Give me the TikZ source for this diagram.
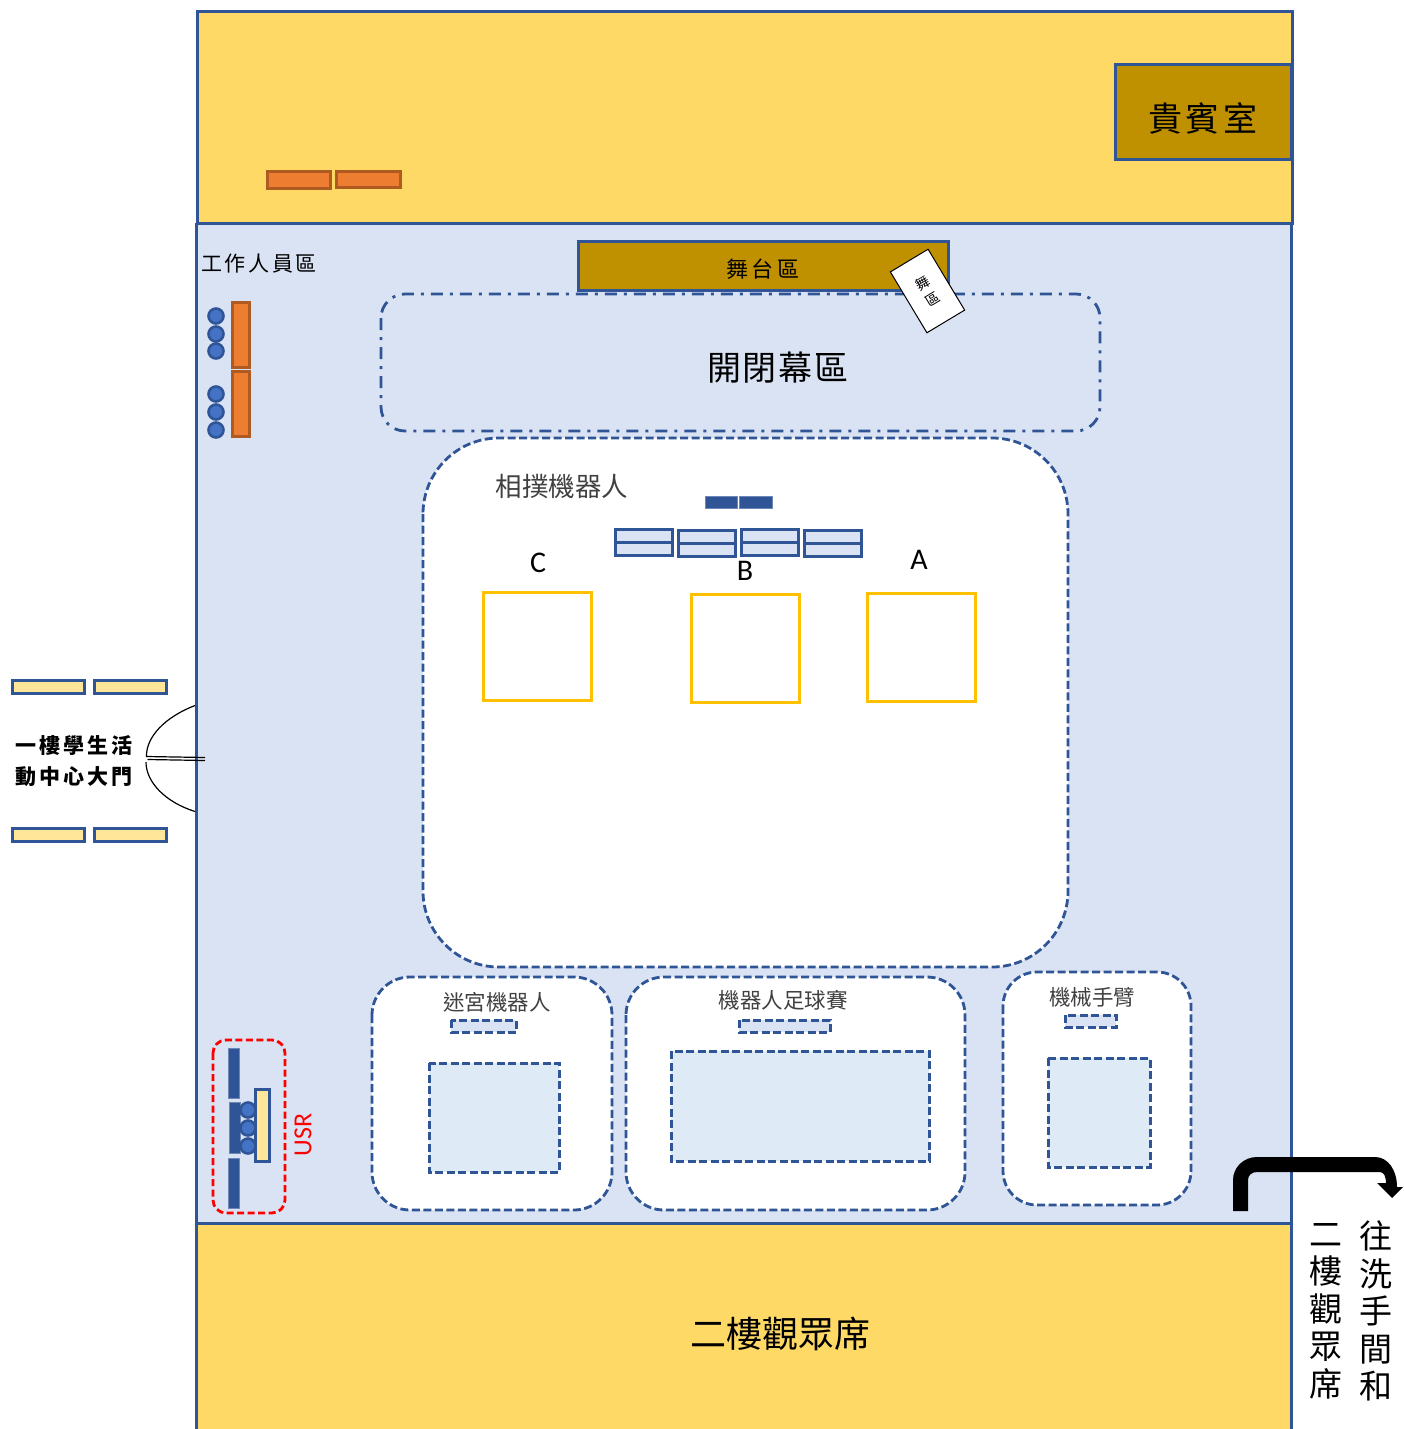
\documentclass[tikz,border=0pt]{standalone}
\usepackage{fontspec}
\setmainfont{Noto Sans CJK TC}
\newfontfamily\latinf{Carlito}
\definecolor{wall}{HTML}{2F5597}
\definecolor{floorc}{HTML}{DAE3F3}
\definecolor{gold}{HTML}{FFD966}
\definecolor{stagec}{HTML}{BF9000}
\definecolor{orangec}{HTML}{ED7D31}
\definecolor{orangee}{HTML}{AE5A21}
\definecolor{paled}{HTML}{FFE699}
\definecolor{courtc}{HTML}{DEEAF6}
\definecolor{dotc}{HTML}{4472C4}
\definecolor{rede}{HTML}{FF0000}
\definecolor{yelo}{HTML}{FFC000}
\tikzset{
  x=1pt,y=-1pt,
  wline/.style={draw=wall,line width=3pt},
  orangebox/.style={fill=orangec,draw=orangee,line width=3pt},
  palebox/.style={fill=paled,draw=wall,line width=3pt},
  navybox/.style={fill=wall,draw=wall!70,line width=1pt},
  tablebox/.style={fill=floorc,draw=wall,line width=3pt},
  dotn/.style={circle,fill=dotc,draw=wall,line width=2.6pt,minimum size=15pt,inner sep=0pt},
  zone/.style={draw=wall,fill=white,line width=2.8pt,dash pattern=on 8pt off 3.5pt},
  court/.style={draw=wall,fill=courtc,line width=3pt,dash pattern=on 8pt off 3.5pt},
  ylw/.style={draw=yelo,line width=3pt},
  txt/.style={inner sep=0pt,text=black},
  door/.style={line width=1.2pt,black}
}
\begin{document}
\begin{tikzpicture}
\useasboundingbox (0,0) rectangle (1403,1429);
% areas
\fill[floorc] (196,223) rectangle (1291,1429);
\draw[wline,fill=gold] (197,12) rectangle (1292,223);
\draw[wline] (196,223) -- (196,1429);
\draw[wline] (1291,223) -- (1291,1429);
\draw[wline,fill=gold] (196,1429) -- (196,1223) -- (1291,1223) -- (1291,1429);
% top
\draw[wline,fill=stagec] (1115,65) rectangle (1291,159);
\node[txt,font=\fontsize{34}{34}\selectfont] (vip) at (1203,118) {貴\hspace{3.5pt}賓\hspace{3.5pt}室};
\draw[orangebox] (267,171) rectangle (330,188);
\draw[orangebox] (336,171) rectangle (400,187);
% stage
\draw[wline,fill=stagec] (578,241) rectangle (948,290);
\node[txt,font=\fontsize{22}{22}\selectfont] (stagelbl) at (763,269) {舞\hspace{4pt}台\hspace{4pt}區};
% opening zone
\draw[wall,line width=2.8pt,rounded corners=24pt,dash pattern=on 12pt off 7pt on 3pt off 7pt] (381,294) rectangle (1100,431);
\node[txt,font=\fontsize{34}{34}\selectfont] (openlbl) at (778,368) {開\hspace{2pt}閉\hspace{2pt}幕\hspace{2pt}區};
% rotated box
\node[draw=black,fill=white,line width=1pt,rotate=31,minimum width=44pt,minimum height=71pt,inner sep=0pt,align=center,font=\fontsize{14}{18}\selectfont] (host) at (927.5,291) {舞\\區};
% staff
\node[txt,font=\fontsize{21}{21}\selectfont] (stafflbl) at (259,264) {工\hspace{2.7pt}作\hspace{2.7pt}人\hspace{2.7pt}員\hspace{2.7pt}區};
\draw[orangebox] (232,302) rectangle (249,367);
\draw[orangebox] (232,371) rectangle (249,436);
\foreach \y in {316,334,351,394,412,430} \node[dotn] (staffdot\y) at (216,\y) {};
% sumo zone
\draw[zone,rounded corners=76pt] (423,438) rectangle (1068,967);
\node[txt,font=\fontsize{26.5}{26.5}\selectfont,text=black!75] (sumo) at (562,487) {相撲機器人};
\draw[navybox] (705,496) rectangle (737,508);
\draw[navybox] (739,496) rectangle (772,508);
\foreach \xa/\ya/\ym/\yb in {615/529/542/555,678/530/543/556,741/529/542/555,804/530/543/556}{
  \draw[tablebox] (\xa,\ya) rectangle (\xa+57,\yb);
  \draw[wall,line width=3pt] (\xa,\ym) -- (\xa+57,\ym);
}
\draw[ylw] (483,592) rectangle (591,700);
\draw[ylw] (691,594) rectangle (799,702);
\draw[ylw] (867,593) rectangle (975,701);
\node[txt,font=\latinf\fontsize{30}{30}\selectfont] (lblc) at (538,563) {C};
\node[txt,font=\latinf\fontsize{30}{30}\selectfont] (lblb) at (745,571) {B};
\node[txt,font=\latinf\fontsize{30}{30}\selectfont] (lbla) at (919,560) {A};
% maze
\draw[zone,rounded corners=38pt] (372,977) rectangle (612,1210);
\node[txt,font=\fontsize{21.5}{21.5}\selectfont,text=black!75] (maze) at (497,1002) {迷宮機器人};
\draw[court,fill=floorc] (451,1020) rectangle (516,1032);
\draw[court] (429,1063) rectangle (559,1172);
% soccer
\draw[zone,rounded corners=38pt] (626,977) rectangle (965,1210);
\node[txt,font=\fontsize{21.5}{21.5}\selectfont,text=black!75] (soccer) at (783,1000) {機器人足球賽};
\draw[court,fill=floorc] (739,1020) rectangle (830,1032);
\draw[court] (671,1051) rectangle (929,1161);
% arm
\draw[zone,rounded corners=34pt] (1003,972) rectangle (1191,1205);
\node[txt,font=\fontsize{21.5}{21.5}\selectfont,text=black!75] (arm) at (1092,997) {機械手臂};
\draw[court,fill=floorc] (1065,1015) rectangle (1116,1027);
\draw[court] (1048,1058) rectangle (1150,1167);
% USR
\draw[rede,line width=2.8pt,rounded corners=13pt,dash pattern=on 7pt off 3.5pt] (213,1040) rectangle (285,1213);
\draw[navybox] (228,1048) rectangle (239,1098);
\draw[navybox] (229,1102) rectangle (240,1153);
\draw[navybox] (228,1158) rectangle (239,1208);
\foreach \y in {1110,1128,1146} \node[dotn] (usrdot\y) at (248,\y) {};
\draw[palebox] (255,1089) rectangle (269,1161);
\node[txt,rotate=90,text=rede,font=\latinf\fontsize{26}{26}\selectfont] (usr) at (303,1135) {USR};
% entrance
\draw[palebox] (12,680) rectangle (84,693);
\draw[palebox] (94,680) rectangle (166,693);
\draw[palebox] (12,828) rectangle (84,841);
\draw[palebox] (94,828) rectangle (166,841);
\node[txt,align=center,font=\bfseries\fontsize{21}{30.5}\selectfont] (door) at (74,761) {一\hspace{3pt}樓\hspace{3pt}學\hspace{3pt}生\hspace{3pt}活\\動\hspace{3pt}中\hspace{3pt}心\hspace{3pt}大\hspace{3pt}門};
\coordinate (doorup) at (195,705.5);
\coordinate (doorlow) at (195,811.5);
\coordinate (upa) at (146.5,756.5);
\coordinate (upb) at (205,757.5);
\coordinate (lowa) at (147.5,759.5);
\coordinate (lowb) at (205,760.5);
\coordinate (lowc) at (146,762);
\draw[door] (doorup) .. controls (165,717) and (146,737) .. (upa) -- (upb);
\draw[door] (lowa) -- (lowb);
\draw[door] (doorlow) .. controls (165,802) and (146,782) .. (lowc);
% arrow
\fill[black] (1233,1211) -- (1248,1211) -- (1248,1180) .. controls (1248,1175) and (1252,1172) .. (1257,1172) -- (1380,1172) .. controls (1384,1172) and (1386,1177) .. (1386,1183) -- (1377,1183) -- (1392,1198) -- (1403,1187) -- (1397,1187) .. controls (1397,1170) and (1388,1157) .. (1375,1157) -- (1257,1157) .. controls (1243,1157) and (1233,1168) .. (1233,1180) -- cycle;
% labels
\node[txt,font=\fontsize{33}{37.5}\selectfont,align=center] (left) at (1326,1311) {二\\樓\\觀\\眾\\席};
\node[txt,font=\fontsize{33}{37.5}\selectfont,align=center] (right) at (1376,1311) {往\\洗\\手\\間\\和};
\node[txt,font=\fontsize{36}{36}\selectfont] (aud) at (780,1334) {二樓觀眾席};
\end{tikzpicture}
\end{document}
